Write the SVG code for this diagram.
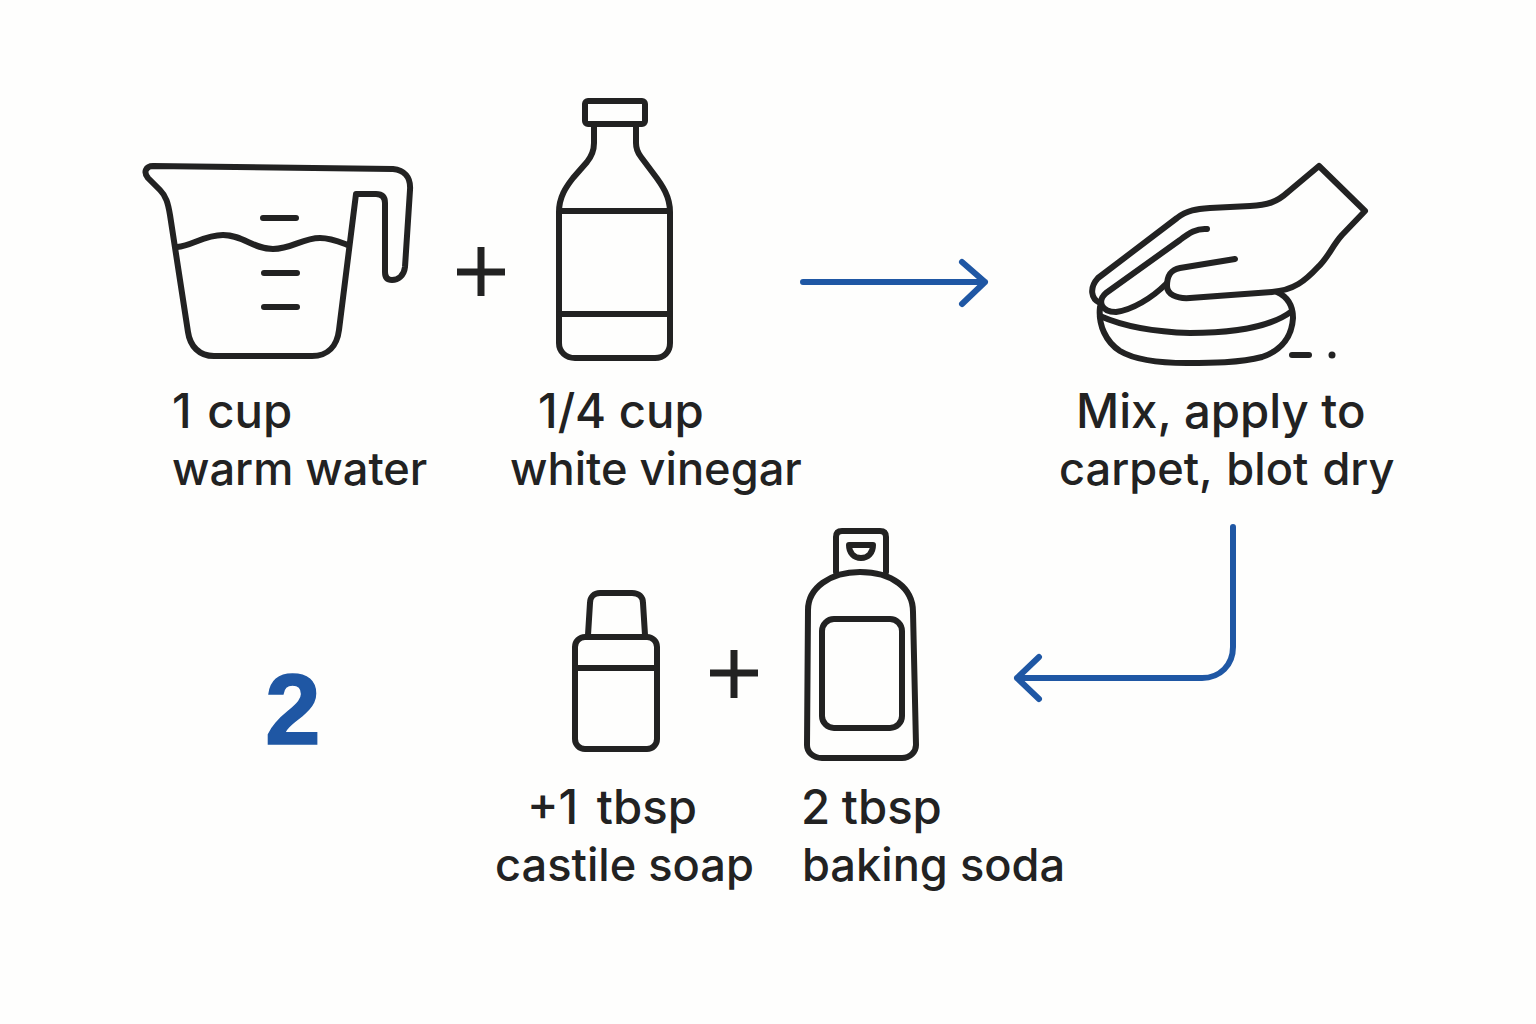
<svg xmlns="http://www.w3.org/2000/svg" width="1536" height="1024" viewBox="0 0 1536 1024">
<style>
.i{fill:none;stroke:#222;stroke-width:6;stroke-linecap:round;stroke-linejoin:round}
.p{fill:none;stroke:#222;stroke-width:7}
.c{fill:none;stroke:#1f57a4;stroke-width:6;stroke-linecap:round;stroke-linejoin:round}
text{font-family:"Inter","Liberation Sans",sans-serif;font-size:45.2px;font-weight:500;fill:#222}
.t{font-size:47.3px}
</style>
<rect width="1536" height="1024" fill="#fefefd"/>
<g id="connectors">
<path class="c" d="M803 282H985M962 262L985 282L962 304"/>
<path class="c" d="M1233 527V647C1233 665 1220 678 1202 678H1017M1039 657L1017 678L1039 699"/>
</g>
<g id="cup">
<path class="i" d="M153 166L393 169C404 170 411 177 410 190L405 267C404 276 398 280 392 280C387 280 385 277 385 272V203C385 197 382 194 376 194H356L339 330C337 346 328 356 312 356H214C199 356 190 346 188 332L170 215C168 203 166 196 160 190L148 178C143 172 146 166 153 166Z"/>
<path class="i" d="M177 247C192 246 204 235 223 235C243 235 253 249 273 249C292 249 302 238 320 238C331 238 340 242 348 245"/>
<path class="i" d="M263 218H296M264 273H297M264 307H297"/>
<text class="t" x="172" y="428" word-spacing="3">1 cup</text>
<text x="172" y="485">warm water</text>
</g>
<g id="plus1"><path class="p" d="M457 272H505M481 247V296"/></g>
<g id="vinegar">
<rect class="i" x="585" y="101" width="60" height="23" rx="3"/>
<path class="i" d="M594 125V143C594 152 591 157 587 162L573 178C566 187 559 197 559 212V343C559 352 566 358 575 358H655C664 358 670 352 670 343V212C670 197 663 186 653 173L641 157C637 152 636 148 636 143V125"/>
<path class="i" d="M560 211H669M560 314H669"/>
<text class="t" x="538" y="428">1/4 cup</text>
<text x="510" y="485">white vinegar</text>
</g>
<g id="hand">
<path class="i" d="M1100 303C1091 299 1089 288 1098 278L1177 218C1187 210 1197 209 1210 208L1250 206C1268 205 1277 202 1288 192L1319 166L1365 211L1342 235C1332 246 1328 258 1318 267C1305 281 1294 290 1272 292L1190 298C1176 299 1167 294 1167 286C1167 276 1170 270 1180 268L1235 259"/>
<path class="i" d="M1207 229C1197 228 1189 233 1180 240L1106 293C1097 301 1101 312 1116 312C1132 310 1152 298 1166 284"/>
<path class="i" d="M1277 292C1288 297 1293 306 1293 318C1292 335 1283 350 1262 357C1240 363 1210 363 1187 363C1163 363 1135 360 1120 351C1106 342 1098 325 1100 307"/>
<path class="i" d="M1100 316C1125 327 1155 332 1190 333C1230 333 1270 328 1292 311"/>
<path class="i" d="M1292 355H1309"/>
<circle cx="1332" cy="355" r="3.5" fill="#222"/>
<text class="t" x="1076" y="428">Mix, apply to</text>
<text x="1059" y="485" word-spacing="2">carpet, blot dry</text>
</g>
<g id="step2"><text x="265" y="744" style="font-family:'Liberation Sans',sans-serif;font-size:100px;font-weight:700;fill:#1f57a4;stroke:#1f57a4;stroke-width:1.5">2</text></g>
<g id="soap">
<path class="i" d="M588 635L590 603C590 597 594 593 600 593H632C639 593 643 597 643 603L645 635"/>
<rect class="i" x="575" y="637" width="82" height="112" rx="10"/>
<path class="i" d="M576 668H656"/>
<text class="t" x="527" y="824" word-spacing="6">+1 tbsp</text>
<text x="495" y="881">castile soap</text>
</g>
<g id="plus2"><path class="p" d="M710 673H758M734 650V698"/></g>
<g id="soda">
<path class="i" d="M836 572V537C836 533 838 531 842 531H880C884 531 886 533 886 537V572"/>
<path class="i" d="M849 545H873C873 553 868 558 861 558C854 558 849 553 849 545Z"/>
<path class="i" d="M808 610C808 588 830 572 860 572C892 572 913 588 913 612L916 745C916 752 910 758 902 758H822C813 758 807 752 807 745Z"/>
<rect class="i" x="822" y="619" width="80" height="109" rx="12"/>
<text class="t" x="801" y="824" word-spacing="-1">2 tbsp</text>
<text x="802" y="881">baking soda</text>
</g>
</svg>
